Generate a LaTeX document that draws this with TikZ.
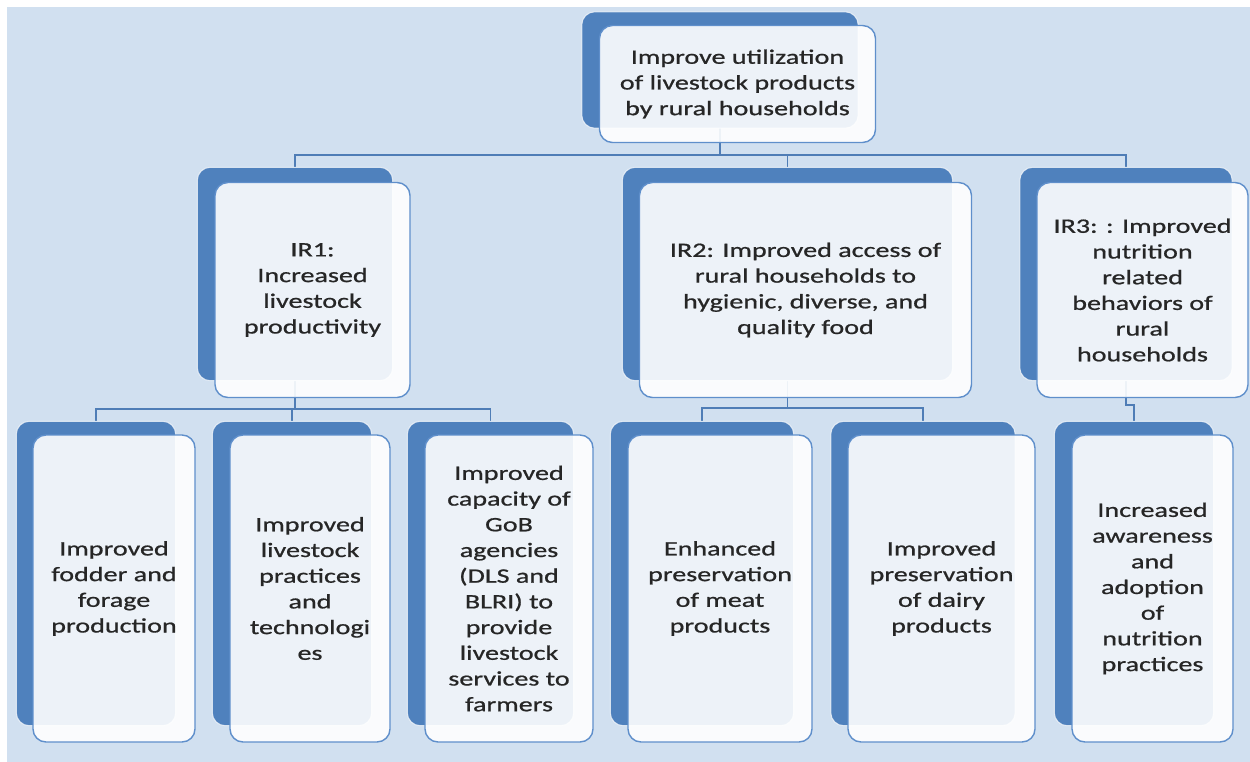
\documentclass[tikz,border=0pt]{standalone}
\usepackage{fontspec}
\setmainfont{Carlito}[FakeStretch=1.37,FakeBold=0.8]
\begin{document}
\begin{tikzpicture}[x=1pt,y=-1pt,
  bgfill/.style={fill=bgblue,draw=none},
  backbox/.style={inner sep=0pt},
  plate/.style={draw=white,draw opacity=0.7,line width=1pt,fill=darkblue,
    rounded corners=13pt},
  frontbox/.style={draw=edgeblue,line width=1.4pt,fill=white,fill opacity=0.9,
    text opacity=1,text=txtgray,rounded corners=13pt,inner sep=0pt,align=center,
    font=\fontsize{20.5}{25.7}\selectfont},
  link/.style={draw=linkblue,line width=1.6pt}]
\definecolor{bgblue}{HTML}{D1E0F0}
\definecolor{darkblue}{HTML}{4F81BD}
\definecolor{edgeblue}{HTML}{5F8FCB}
\definecolor{linkblue}{HTML}{4F7DB6}
\definecolor{txtgray}{HTML}{262626}

% canvas
\path[fill=white] (0,0) rectangle (1250,762);
\path[bgfill] (7,7) rectangle (1250,762);
\useasboundingbox (0,0) rectangle (1250,762);

% bus levels
\coordinate (busA) at (0,155);
\coordinate (busB) at (0,409);
\coordinate (busC) at (0,408);
\coordinate (busD) at (0,405);

% back plate frames (filled after the connectors)
\node[backbox,minimum width=276pt,minimum height=116pt] (topb) at (720,70) {};
\node[backbox,minimum width=195pt,minimum height=213pt] (ir1b) at (295,274) {};
\node[backbox,minimum width=330pt,minimum height=213pt] (ir2b) at (787.5,274) {};
\node[backbox,minimum width=212pt,minimum height=213pt] (ir3b) at (1126,274) {};
\node[backbox,minimum width=159pt,minimum height=304pt] (c1b) at (96,573.5) {};
\node[backbox,minimum width=159pt,minimum height=304pt] (c2b) at (292,573.5) {};
\node[backbox,minimum width=166pt,minimum height=304pt] (c3b) at (490.5,573.5) {};
\node[backbox,minimum width=183pt,minimum height=304pt] (c4b) at (702,573.5) {};
\node[backbox,minimum width=184pt,minimum height=304pt] (c5b) at (923,573.5) {};
\node[backbox,minimum width=159pt,minimum height=304pt] (c6b) at (1134,573.5) {};

% connectors
\draw[link] (topb.south) -- (topb.south |- busA) -| (ir1b.north);
\draw[link] (topb.south |- busA) -| (ir2b.north);
\draw[link] (topb.south |- busA) -| (ir3b.north);
\draw[link] (ir1b.south) -- (ir1b.south |- busB) -| (c1b.north);
\draw[link] (ir1b.south |- busB) -| (c2b.north);
\draw[link] (ir1b.south |- busB) -| (c3b.north);
\draw[link] (ir2b.south) -- (ir2b.south |- busC) -| (c4b.north);
\draw[link] (ir2b.south |- busC) -| (c5b.north);
\draw[link] (ir3b.south) -- (ir3b.south |- busD) -| (c6b.north);

% back plates
\foreach \n in {topb,ir1b,ir2b,ir3b,c1b,c2b,c3b,c4b,c5b,c6b}{
  \path[plate] (\n.south west) rectangle (\n.north east);
}

% front cards
\node[frontbox,minimum width=276pt,minimum height=117pt] (top) at (737.5,84)
  {Improve utilization\\of livestock products\\by rural households};
\node[frontbox,minimum width=195pt,minimum height=215pt] (ir1) at (312.5,290)
  {IR1:\\Increased\\livestock\\productivity};
\node[frontbox,minimum width=332pt,minimum height=215pt] (ir2) at (805.5,290)
  {IR2: Improved access of\\rural households to\\hygienic, diverse, and\\quality food};
\node[frontbox,minimum width=211pt,minimum height=215pt] (ir3) at (1142.5,290)
  {IR3: : Improved\\nutrition\\related\\behaviors of\\rural\\households};
\node[frontbox,minimum width=162pt,minimum height=307pt] (c1) at (114,588.5)
  {Improved\\fodder and\\forage\\production};
\node[frontbox,minimum width=160pt,minimum height=307pt] (c2) at (310,588.5)
  {Improved\\livestock\\practices\\and\\technologi\\es};
\node[frontbox,minimum width=168pt,minimum height=307pt] (c3) at (509,588.5)
  {Improved\\capacity of\\GoB\\agencies\\(DLS and\\BLRI) to\\provide\\livestock\\services to\\farmers};
\node[frontbox,minimum width=184pt,minimum height=307pt] (c4) at (720,588.5)
  {Enhanced\\preservation\\of meat\\products};
\node[frontbox,minimum width=187pt,minimum height=307pt] (c5) at (941.5,588.5)
  {Improved\\preservation\\of dairy\\products};
\node[frontbox,minimum width=161pt,minimum height=307pt] (c6) at (1152.5,588.5)
  {Increased\\awareness\\and\\adoption\\of\\nutrition\\practices};
\end{tikzpicture}
\end{document}
